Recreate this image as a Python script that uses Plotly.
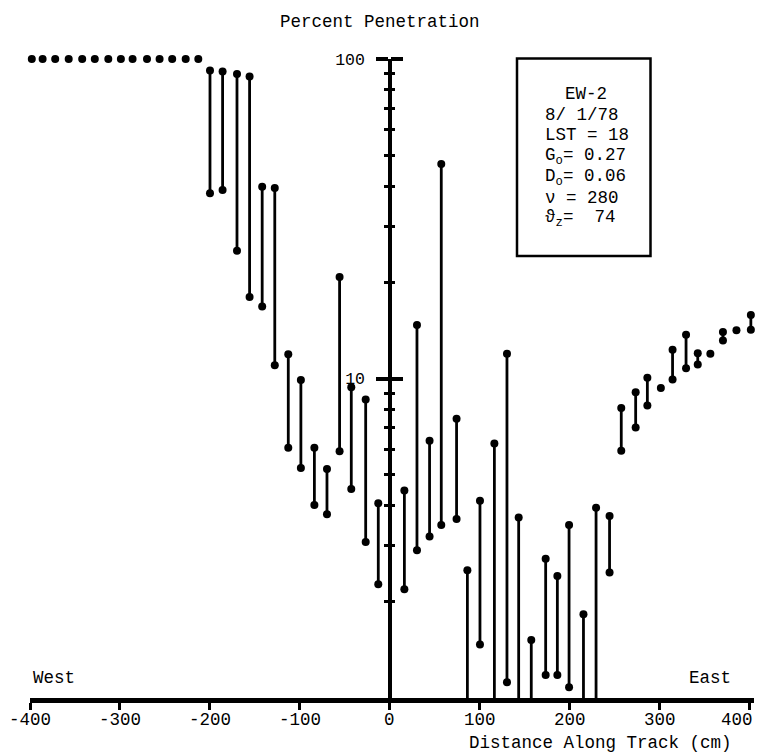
import plotly.graph_objects as go

# Percent penetration along the EW-2 track (8/1/78)
# Each reading: distance (cm), upper and lower percent penetration.
# lower = None -> below 1 %, stem runs to the bottom of the scale.
# lower == upper -> a single reading (dot only).
distance = [-398, -386, -372, -357, -342, -328, -313, -299, -286, -270, -256, -242, -227, -213,
            -200, -186, -170, -156, -142, -128, -113, -99, -84, -70, -56, -43, -27, -13,
            16, 30, 44, 57, 74, 86, 100, 116, 130, 143, 157, 173, 186, 199, 215, 229, 244,
            257, 273, 286, 301, 314, 329, 342, 356, 370, 385, 401]
upper = [100, 100, 100, 100, 100, 100, 100, 100, 100, 100, 100, 100, 100, 100,
         92.1, 91.4, 89.7, 88.2, 39.8, 39.5, 11.9, 9.9, 6.07, 5.21, 20.8, 9.39, 8.59, 4.07,
         4.46, 14.7, 6.39, 46.9, 7.48, 2.51, 4.14, 6.26, 11.96, 3.67, 1.52, 2.73, 2.41, 3.48, 1.83, 3.94, 3.71,
         8.09, 9.06, 10.05, 9.33, 12.3, 13.7, 12.0, 11.96, 13.97, 14.15, 15.8]
lower = [100, 100, 100, 100, 100, 100, 100, 100, 100, 100, 100, 100, 100, 100,
         38.0, 38.9, 25.1, 18.0, 16.8, 11.0, 6.07, 5.25, 4.02, 3.76, 5.92, 4.51, 3.08, 2.27,
         2.19, 2.90, 3.20, 3.48, 3.63, None, 1.47, None, 1.12, None, None, 1.18, 1.18, 1.08, None, None, 2.47,
         5.94, 7.03, 8.23, 9.33, 9.93, 10.77, 11.07, 11.96, 13.15, 14.15, 14.2]

x_ticks = [-400, -300, -200, -100, 0, 100, 200, 300, 400]
y_major = [10, 100]
y_minor = [2, 3, 4, 5, 6, 7, 8, 9, 20, 30, 40, 50, 60, 70, 80, 90]

info_lines = ["8/ 1/78", "LST = 18", "G<sub>o</sub>= 0.27", "D<sub>o</sub>= 0.06",
              "\u03bd = 280", "\u03d1<sub>z</sub>=  74"]

FONT = "Liberation Mono"
W, H = 759, 753
ML, MR, MT, MB = 30, 5, 59, 55
X_RANGE = [-400, 404.5]
Y_FLOOR = 1  # bottom of the log scale

def px_x(px):
    return (px - ML) / (W - ML - MR)

def px_y(py):
    return (H - MB - py) / (H - MT - MB)

# stems
sx, sy = [], []
for d, u, l in zip(distance, upper, lower):
    if l is not None and l == u:
        continue
    sx += [d, d, None]
    sy += [u, Y_FLOOR if l is None else l, None]

# end dots
mx, my = [], []
for d, u, l in zip(distance, upper, lower):
    mx.append(d)
    my.append(u)
    if l is not None and l != u:
        mx.append(d)
        my.append(l)

fig = go.Figure()
fig.add_trace(go.Scatter(x=sx, y=sy, mode="lines", line=dict(color="black", width=2.8),
                         cliponaxis=False, hoverinfo="skip", showlegend=False))
fig.add_trace(go.Scatter(x=mx, y=my, mode="markers", marker=dict(color="black", size=8),
                         cliponaxis=False, showlegend=False))
# companion axis carrying the right half of the y ticks
fig.add_trace(go.Scatter(x=[None], y=[None], yaxis="y2", showlegend=False))

fig.update_layout(
    width=W, height=H,
    margin=dict(l=ML, r=MR, t=MT, b=MB),
    paper_bgcolor="white", plot_bgcolor="white",
    font=dict(family=FONT, color="black", size=17.5),
    xaxis=dict(range=X_RANGE, tickvals=x_ticks, showticklabels=False,
               showgrid=False, zeroline=False, showline=True, linecolor="black", linewidth=5,
               ticks="outside", ticklen=7, tickwidth=2.5, tickcolor="black", anchor="y"),
    yaxis=dict(type="log", range=[0, 2], anchor="free", position=px_x(390),
               showgrid=False, zeroline=False, showline=True, linecolor="black", linewidth=3.5,
               tickvals=y_major, ticktext=[str(v) for v in y_major],
               ticks="outside", ticklen=12, tickwidth=3.5, tickcolor="black",
               ticklabelstandoff=8,
               minor=dict(tickvals=y_minor, ticks="outside", ticklen=4, tickwidth=2.5,
                          tickcolor="black", showgrid=False),
               tickfont=dict(family=FONT, size=16.5, color="black")),
    yaxis2=dict(type="log", range=[0, 2], anchor="free", position=px_x(390), overlaying="y",
                side="right", showgrid=False, zeroline=False, showline=False,
                tickvals=y_major, showticklabels=False,
                ticks="outside", ticklen=12, tickwidth=3.5, tickcolor="black",
                minor=dict(tickvals=y_minor, ticks="outside", ticklen=4, tickwidth=2.5,
                           tickcolor="black", showgrid=False)),
)

ann = [
    dict(text="Percent Penetration", x=px_x(380), y=px_y(22), xanchor="center", yanchor="middle"),
    dict(text="Distance Along Track (cm)", x=px_x(600), y=px_y(743), xanchor="center", yanchor="middle"),
    dict(text="West", x=px_x(31), y=px_y(678), xanchor="left", yanchor="middle"),
    dict(text="East", x=px_x(733), y=px_y(678), xanchor="right", yanchor="middle"),
    dict(text="EW-2", x=px_x(586), y=px_y(94), xanchor="center", yanchor="middle"),
]
line_y = [115, 135, 156, 177, 198, 219]
for txt, py in zip(info_lines, line_y):
    ann.append(dict(text=txt, x=px_x(543), y=px_y(py), xanchor="left", yanchor="middle"))
for a in ann:
    a.update(xref="paper", yref="paper")

# x tick labels along the bottom axis
for v in x_ticks:
    last = v == x_ticks[-1]
    ann.append(dict(text=str(v), x=v, xref="x", y=px_y(720), yref="paper",
                    xanchor="right" if last else "center", xshift=5 if last else 0,
                    yanchor="middle"))

for a in ann:
    a.update(showarrow=False, font=dict(family=FONT, size=17.5, color="black"))
fig.update_layout(annotations=ann)

fig.add_shape(type="rect", xref="paper", yref="paper",
              x0=px_x(517), x1=px_x(650.5), y0=px_y(256), y1=px_y(58.5),
              line=dict(color="black", width=2.5), fillcolor="rgba(0,0,0,0)")

fig.write_html("out.html")
